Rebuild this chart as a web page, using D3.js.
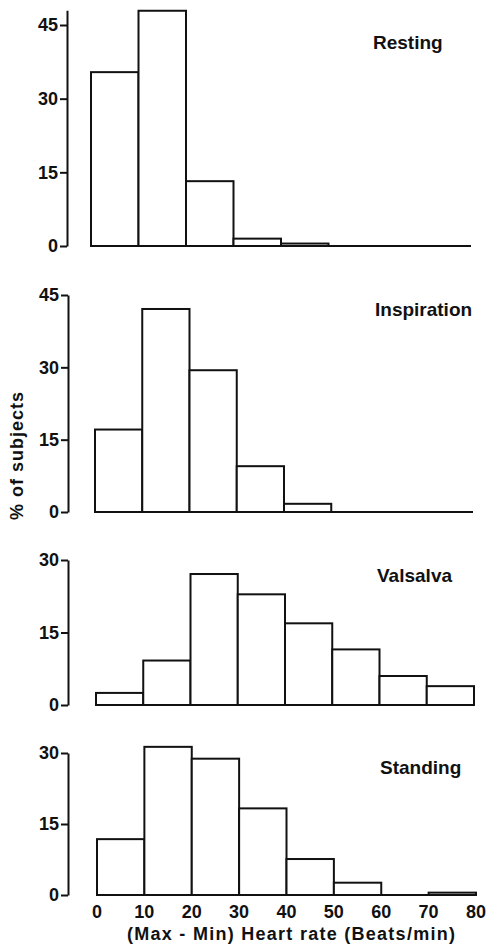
<!DOCTYPE html>
<html>
<head>
<meta charset="utf-8">
<script src="https://cdn.jsdelivr.net/npm/d3@7"></script>
<style>
  body { margin: 0; background: #fff; }
  text { font-family: "Liberation Sans", Arial, sans-serif; font-weight: bold; fill: #111; }
</style>
</head>
<body>
<div id="chart"></div>
<script>
// bin edges (beats/min) and % of subjects per bin
let binEdges = [0, 10, 20, 30, 40, 50, 60, 70, 80];
let resting = [35.4, 47.9, 13.2, 1.5, 0.5, 0, 0, 0];
let inspiration = [17.1, 42.1, 29.4, 9.5, 1.7, 0, 0, 0];
let valsalva = [2.5, 9.2, 27.1, 22.9, 16.9, 11.5, 6.0, 3.9];
let standing = [11.8, 31.3, 28.8, 18.3, 7.6, 2.6, 0, 0.5];
let panelNames = ["Resting", "Inspiration", "Valsalva", "Standing"];
let yTicksBig = [0, 15, 30, 45];
let yTicksSmall = [0, 15, 30];
let xTicks = [0, 10, 20, 30, 40, 50, 60, 70, 80];

let width = 488, height = 949;

// layout of each panel (pixel positions)
let panels = [
  {name: panelNames[0], values: resting, ticks: yTicksBig, top: 48, base: 246, tickTop: 25, x0: 91, x1: 471, ax: 67, lx: 373, ly: 44},
  {name: panelNames[1], values: inspiration, ticks: yTicksBig, top: 45, base: 512, tickTop: 295, x0: 95, x1: 473, ax: 68, lx: 375, ly: 311},
  {name: panelNames[2], values: valsalva, ticks: yTicksSmall, top: 30, base: 705, tickTop: 560, x0: 96, x1: 474, ax: 68, lx: 377, ly: 577},
  {name: panelNames[3], values: standing, ticks: yTicksSmall, top: 30, base: 895, tickTop: 753, x0: 97, x1: 476, ax: 68, lx: 380, ly: 769}
];

let svg = d3.select("#chart").append("svg")
  .attr("width", width)
  .attr("height", height);

panels.forEach(function(p, i) {
  let maxTick = p.ticks[p.ticks.length - 1];
  let y = d3.scaleLinear()
    .domain([0, maxTick])
    .range([p.base, p.tickTop]);
  let x = d3.scaleLinear()
    .domain([0, 80])
    .range([p.x0, p.x1]);

  let g = svg.append("g");

  // y axis (runs up to the panel's top value)
  let yAxisScale = y.copy().domain([0, p.top]).range([p.base, y(p.top)]);
  let ax = g.append("g")
    .attr("transform", "translate(" + p.ax + ",0)")
    .call(d3.axisLeft(yAxisScale).tickValues(p.ticks).tickSize(7).tickSizeOuter(0).tickPadding(2));
  ax.select(".domain").attr("stroke", "#111").attr("stroke-width", 2);
  ax.selectAll(".tick line").attr("stroke", "#111").attr("stroke-width", 2);
  ax.selectAll(".tick text")
    .attr("font-size", 18)
    .attr("font-family", "Liberation Sans")
    .attr("font-weight", "bold")
    .attr("fill", "#111");

  // baseline across the whole range
  g.append("line")
    .attr("x1", x(0)).attr("x2", x(80))
    .attr("y1", y(0)).attr("y2", y(0))
    .attr("stroke", "#111").attr("stroke-width", 2.2);

  // bars
  g.selectAll("rect.bar")
    .data(p.values)
    .enter().append("rect")
    .attr("class", "bar")
    .attr("x", function(d, j) { return x(binEdges[j]); })
    .attr("width", function(d, j) { return x(binEdges[j + 1]) - x(binEdges[j]); })
    .attr("y", function(d) { return y(d); })
    .attr("height", function(d) { return y(0) - y(d); })
    .attr("fill", "#fff")
    .attr("stroke", "#111")
    .attr("stroke-width", function(d) { return d > 0 ? 2 : 0; });

  // panel label
  g.append("text")
    .attr("x", p.lx)
    .attr("y", p.ly)
    .attr("dominant-baseline", "middle")
    .attr("font-size", 19)
    .text(p.name);

  // x tick labels on bottom panel only
  if (i == panels.length - 1) {
    g.selectAll("text.xt")
      .data(xTicks)
      .enter().append("text")
      .attr("class", "xt")
      .attr("x", function(d) { return x(d); })
      .attr("y", 913)
      .attr("text-anchor", "middle")
      .attr("dominant-baseline", "middle")
      .attr("font-size", 18)
      .text(function(d) { return d; });

    svg.append("text")
      .attr("x", 127)
      .attr("y", 935)
      .attr("dominant-baseline", "middle")
      .attr("font-size", 18)
      .attr("textLength", 328)
      .attr("lengthAdjust", "spacing")
      .text("(Max - Min)  Heart rate  (Beats/min)");
  }
});

// y axis title
svg.append("text")
  .attr("transform", "translate(18,520) rotate(-90)")
  .attr("dominant-baseline", "middle")
  .attr("font-size", 18)
  .attr("textLength", 128)
  .attr("lengthAdjust", "spacing")
  .text("% of subjects");
</script>
</body>
</html>
